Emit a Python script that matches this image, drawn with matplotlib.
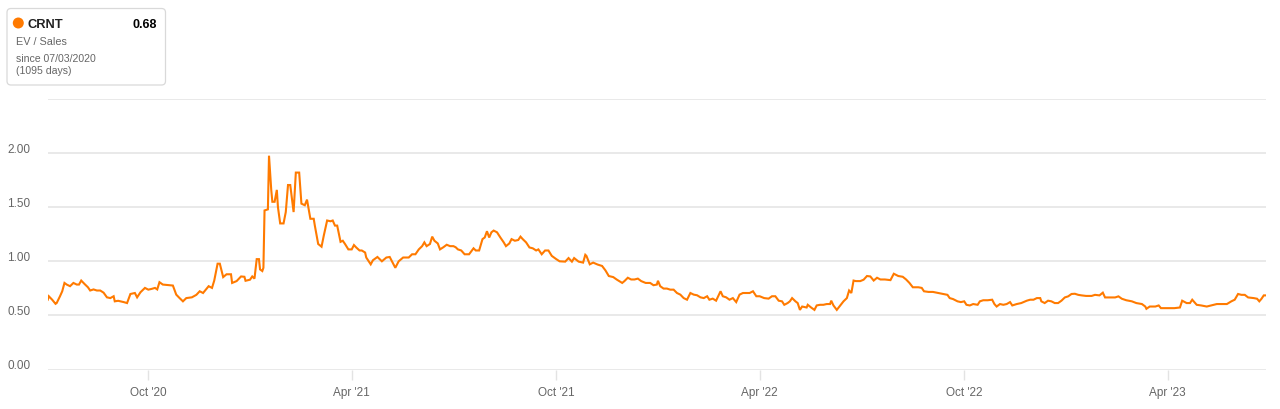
import datetime as dt
import matplotlib
matplotlib.use("Agg")
import matplotlib.pyplot as plt
import matplotlib.dates as mdates
from matplotlib.patches import FancyBboxPatch, Circle
from matplotlib.transforms import ScaledTranslation
from matplotlib.ticker import FixedLocator, FuncFormatter

plt.rcParams['font.family'] = ['Liberation Sans', 'DejaVu Sans']

# ---------------- data ----------------
ticker = "CRNT"
metric = "EV / Sales"
latest_value = "0.68"
start_date = dt.date(2020, 7, 3)
period_note = "since 07/03/2020"
period_days = "(1095 days)"

# day offsets from start_date
day_offsets = [
    0, 1, 4, 7, 8, 11, 13, 15, 17, 20, 23, 26, 28, 30, 33, 36, 38, 41, 44, 47,
    50, 53, 56, 59, 60, 63, 68, 71, 74, 78, 80, 83, 87, 90, 93, 96, 98, 100, 103, 108,
    112, 115, 118, 121, 124, 129, 133, 136, 139, 144, 147, 149, 152, 154, 157, 160, 164, 165, 169, 173,
    176, 177, 181, 183, 185, 187, 189, 190, 192, 193, 194, 197, 198, 200, 201, 203, 205, 206, 208, 211,
    213, 215, 217, 220, 222, 225, 227, 230, 232, 235, 238, 239, 242, 245, 247, 250, 253, 255, 257, 259,
    262, 264, 266, 269, 272, 274, 276, 279,
    281, 284, 285, 289, 291, 295, 299, 303, 306, 308, 311, 314, 318, 323, 326, 329, 332, 335, 337, 339,
    342, 344, 346, 349, 351, 354, 357, 360, 363, 365, 367, 370, 373, 377, 381, 383, 386, 389, 391, 393,
    395, 397, 399, 402, 405, 408, 410, 413, 415, 418, 421, 423, 425, 428, 431, 434, 437, 439, 442, 445,
    448, 451, 455, 458,
    463, 466, 469, 471, 475, 479, 481, 482, 485, 488, 492, 496, 499, 502, 506, 509, 514, 516, 519, 522,
    525, 528, 531, 535, 539, 542, 545, 546, 548, 551, 554, 557, 560, 563, 566, 569, 572, 575, 578, 581,
    584, 587, 590, 592, 595, 598, 602, 604, 607, 610, 613, 616, 619, 622, 625, 628, 631, 634, 637, 641,
    645, 648, 651, 654, 657, 659, 662, 664, 666, 669, 671, 673, 675, 679, 680, 683, 686, 688, 691, 694,
    697, 700, 701, 703, 706, 709, 712, 715, 717, 719, 721, 723, 727,
    730, 733, 736, 739, 742, 745, 749, 754, 757, 761, 765, 768, 771, 774, 779, 782, 784, 788, 792, 797,
    801, 805, 807, 810, 814, 817, 820, 822, 825, 828, 832, 834, 837, 841, 845, 847, 849, 852, 855, 858,
    861, 863, 867, 871, 876, 879, 882, 885, 888, 889, 892, 895, 898, 901, 904, 907, 910, 913, 916, 919,
    922, 925, 929, 934, 937, 941, 944, 946, 950, 955, 958, 961, 965, 970, 974, 979, 982, 983, 986, 991,
    994, 996, 1000, 1004, 1008, 1013, 1015, 1019, 1022, 1024, 1028, 1032, 1037, 1041, 1046, 1050, 1055, 1059, 1062, 1065,
    1068, 1071, 1074, 1079, 1082, 1084, 1086, 1088, 1090,
]

ev_sales = [
    0.644, 0.677, 0.645, 0.607, 0.614, 0.677, 0.723, 0.800, 0.785, 0.770, 0.800, 0.785, 0.785, 0.822, 0.790, 0.760, 0.730, 0.740, 0.730, 0.730,
    0.710, 0.667, 0.660, 0.677, 0.630, 0.635, 0.623, 0.614, 0.698, 0.707, 0.667, 0.714, 0.754, 0.738, 0.745, 0.754, 0.740, 0.807, 0.785, 0.780,
    0.776, 0.692, 0.660, 0.630, 0.660, 0.667, 0.690, 0.723, 0.707, 0.770, 0.754, 0.822, 0.978, 0.978, 0.854, 0.880, 0.880, 0.800, 0.817, 0.860,
    0.857, 0.820, 0.830, 0.860, 0.840, 1.020, 1.020, 0.925, 0.910, 0.940, 1.470, 1.480, 1.976, 1.660, 1.550, 1.550, 1.660, 1.500, 1.350, 1.350,
    1.455, 1.705, 1.705, 1.455, 1.820, 1.820, 1.533, 1.518, 1.570, 1.393, 1.393, 1.330, 1.160, 1.135, 1.237, 1.377, 1.370, 1.377, 1.330, 1.330,
    1.180, 1.190, 1.160, 1.110, 1.110, 1.150, 1.128, 1.100,
    1.100, 1.081, 1.035, 0.972, 1.010, 1.040, 1.000, 1.035, 1.040, 1.000, 0.940, 1.000, 1.035, 1.035, 1.065, 1.065, 1.110, 1.140, 1.175, 1.140,
    1.160, 1.228, 1.190, 1.165, 1.110, 1.130, 1.153, 1.140, 1.140, 1.130, 1.110, 1.100, 1.065, 1.065, 1.120, 1.100, 1.100, 1.205, 1.220, 1.278,
    1.220, 1.268, 1.284, 1.268, 1.220, 1.175, 1.140, 1.165, 1.205, 1.190, 1.197, 1.228, 1.205, 1.175, 1.128, 1.120, 1.100, 1.110, 1.065, 1.100,
    1.100, 1.050, 1.020, 1.000,
    0.997, 1.030, 0.997, 1.030, 0.997, 0.988, 1.060, 1.050, 0.972, 0.988, 0.970, 0.957, 0.916, 0.864, 0.854, 0.832, 0.800, 0.817, 0.848, 0.832,
    0.832, 0.840, 0.817, 0.800, 0.800, 0.779, 0.785, 0.820, 0.770, 0.748, 0.748, 0.738, 0.738, 0.707, 0.692, 0.660, 0.645, 0.707, 0.692, 0.686,
    0.667, 0.660, 0.677, 0.645, 0.655, 0.636, 0.723, 0.677, 0.667, 0.645, 0.660, 0.623, 0.692, 0.707, 0.707, 0.707, 0.723, 0.677, 0.677, 0.660,
    0.655, 0.677, 0.677, 0.636, 0.630, 0.598, 0.614, 0.630, 0.660, 0.630, 0.614, 0.551, 0.582, 0.573, 0.598, 0.573, 0.551, 0.592, 0.598, 0.598,
    0.605, 0.605, 0.636, 0.592, 0.551, 0.590, 0.630, 0.660, 0.730, 0.707, 0.822, 0.817, 0.817,
    0.830, 0.864, 0.860, 0.822, 0.848, 0.832, 0.832, 0.826, 0.885, 0.864, 0.857, 0.832, 0.800, 0.760, 0.760, 0.754, 0.723, 0.717, 0.717, 0.707,
    0.700, 0.690, 0.660, 0.651, 0.630, 0.623, 0.630, 0.598, 0.592, 0.605, 0.598, 0.630, 0.640, 0.640, 0.645, 0.605, 0.582, 0.605, 0.598, 0.605,
    0.623, 0.592, 0.605, 0.614, 0.636, 0.645, 0.645, 0.660, 0.660, 0.630, 0.614, 0.636, 0.630, 0.614, 0.614, 0.636, 0.666, 0.676, 0.698, 0.700,
    0.690, 0.685, 0.680, 0.680, 0.690, 0.685, 0.710, 0.666, 0.666, 0.666, 0.676, 0.654, 0.640, 0.630, 0.614, 0.605, 0.582, 0.561, 0.582, 0.582,
    0.592, 0.567, 0.567, 0.567, 0.567, 0.573, 0.636, 0.614, 0.614, 0.645, 0.598, 0.592, 0.582, 0.592, 0.605, 0.605, 0.605, 0.630, 0.645, 0.698,
    0.690, 0.690, 0.666, 0.660, 0.654, 0.630, 0.654, 0.685, 0.685,
]

y_ticks = [0.0, 0.5, 1.0, 1.5, 2.0, 2.5]
x_tick_dates = [dt.date(2020, 10, 1), dt.date(2021, 4, 1), dt.date(2021, 10, 1),
                dt.date(2022, 4, 1), dt.date(2022, 10, 1), dt.date(2023, 4, 1)]
x_tick_labels = ["Oct '20", "Apr '21", "Oct '21", "Apr '22", "Oct '22", "Apr '23"]

# ---------------- style ----------------
W, H = 1280, 410
LINE_COLOR = '#ff7a00'
GRID_COLOR = '#e3e3e3'
LABEL_COLOR = '#666666'

dates = [start_date + dt.timedelta(days=d) for d in day_offsets]

fig = plt.figure(figsize=(W / 100, H / 100), dpi=100)
fig.patch.set_facecolor('white')

ax_left, ax_right = 47.7, 1266.0
ax_top, ax_bottom = 100.0, 370.5
ax = fig.add_axes([ax_left / W, (H - ax_bottom) / H,
                   (ax_right - ax_left) / W, (ax_bottom - ax_top) / H])

ax.plot(dates, ev_sales, color=LINE_COLOR, lw=1.5, solid_joinstyle='miter', zorder=3)

ax.set_xlim(dates[0], dates[-1])
ax.set_ylim(y_ticks[0], y_ticks[-1])

for s in ax.spines.values():
    s.set_visible(False)

# y axis
ax.yaxis.set_major_locator(FixedLocator(y_ticks))
ax.yaxis.set_major_formatter(FuncFormatter(lambda v, p: "" if v >= 2.49 else f"{v:.2f}"))
ax.tick_params(axis='y', length=0, pad=12.5, labelsize=8.5, labelcolor=LABEL_COLOR)
ax.yaxis.grid(True, color=GRID_COLOR, lw=1.1, zorder=0)
offset = ScaledTranslation(0, 6 / 100, fig.dpi_scale_trans)
for lab in ax.get_yticklabels():
    lab.set_transform(lab.get_transform() + offset)

# x axis
ax.set_xticks([mdates.date2num(d) for d in x_tick_dates])
ax.set_xticklabels(x_tick_labels)
ax.tick_params(axis='x', length=7.2, width=1.0, color=GRID_COLOR, pad=4.5,
               labelsize=8.5, labelcolor=LABEL_COLOR)
ax.xaxis.grid(False)
ax.set_axisbelow(True)

# ---------------- info box overlay ----------------
ov = fig.add_axes([0, 0, 1, 1], zorder=5)
ov.set_xlim(0, W)
ov.set_ylim(H, 0)
ov.axis('off')
ov.patch.set_alpha(0)

box = FancyBboxPatch((7.0, 9.5), 158.5, 76.5,
                     boxstyle="round,pad=0,rounding_size=4",
                     fc='white', ec='#d9d9d9', lw=0.9)
ov.add_patch(box)
ov.add_patch(Circle((18.3, 24.0), 5.5, color=LINE_COLOR, lw=0))
ov.text(27.5, 24.5, ticker, fontsize=9.3, fontweight='bold', color='#222222',
        ha='left', va='center')
ov.text(156.5, 24.5, latest_value, fontsize=9.0, fontweight='bold', color='#000000',
        ha='right', va='center')
ov.text(15.5, 42.0, metric, fontsize=7.8, color=LABEL_COLOR, ha='left', va='center')
ov.text(15.5, 59.0, period_note, fontsize=7.6, color=LABEL_COLOR, ha='left', va='center')
ov.text(15.5, 71.5, period_days, fontsize=7.6, color=LABEL_COLOR, ha='left', va='center')

fig.savefig('out.png', dpi=100, facecolor='white')
